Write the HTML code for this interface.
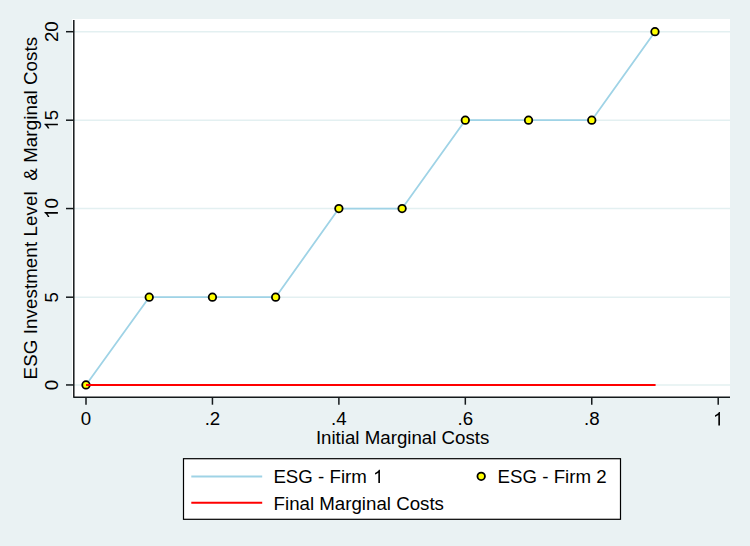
<!DOCTYPE html>
<html>
<head>
<meta charset="utf-8">
<style>
html,body{margin:0;padding:0;background:#EAF2F3;}
body{width:750px;height:546px;overflow:hidden;}
svg{display:block;}
text{font-family:"Liberation Sans",sans-serif;fill:#000;}
</style>
</head>
<body>
<svg width="750" height="546" viewBox="0 0 750 546">
  <rect x="0" y="0" width="750" height="546" fill="#EAF2F3"/>
  <rect x="72" y="19" width="658" height="378" fill="#FFFFFF"/>
  <g stroke="#E3F0F1" stroke-width="1.4">
    <line x1="74" y1="384.95" x2="730" y2="384.95"/>
    <line x1="74" y1="297.2" x2="730" y2="297.2"/>
    <line x1="74" y1="208.55" x2="730" y2="208.55"/>
    <line x1="74" y1="120.2" x2="730" y2="120.2"/>
    <line x1="74" y1="31.7" x2="730" y2="31.7"/>
  </g>
  <g stroke="#14191b" stroke-width="1.5" fill="none">
    <path d="M73.8,20 L73.8,397.3 L730,397.3" stroke-linejoin="round"/>
    <line x1="66" y1="384.95" x2="73.8" y2="384.95"/>
    <line x1="66" y1="297.2" x2="73.8" y2="297.2"/>
    <line x1="66" y1="208.55" x2="73.8" y2="208.55"/>
    <line x1="66" y1="120.2" x2="73.8" y2="120.2"/>
    <line x1="66" y1="31.7" x2="73.8" y2="31.7"/>
    <line x1="86.0" y1="397.3" x2="86.0" y2="404.7"/>
    <line x1="212.44" y1="397.3" x2="212.44" y2="404.7"/>
    <line x1="338.88" y1="397.3" x2="338.88" y2="404.7"/>
    <line x1="465.32" y1="397.3" x2="465.32" y2="404.7"/>
    <line x1="591.76" y1="397.3" x2="591.76" y2="404.7"/>
    <line x1="718.2" y1="397.3" x2="718.2" y2="404.7"/>
  </g>
  <g font-size="18.7" text-anchor="middle" fill="#000">
    <g transform="translate(57.9,31.7) rotate(-90)"><text x="-10.4" y="0" text-anchor="start">2</text><text x="0.0" y="0" text-anchor="start">0</text></g>
    <g transform="translate(57.9,120.2) rotate(-90)"><path d="M763 0H583V1147Q518 1085 412.5 1023Q307 961 223 930V1104Q374 1175 487 1276Q600 1377 647 1472H763V0Z" transform="translate(-10.4,0) scale(0.009131,-0.009131)"/><text x="0.0" y="0" text-anchor="start">5</text></g>
    <g transform="translate(57.9,208.55) rotate(-90)"><path d="M763 0H583V1147Q518 1085 412.5 1023Q307 961 223 930V1104Q374 1175 487 1276Q600 1377 647 1472H763V0Z" transform="translate(-10.4,0) scale(0.009131,-0.009131)"/><text x="0.0" y="0" text-anchor="start">0</text></g>
    <g transform="translate(57.9,297.2) rotate(-90)"><text x="-5.2" y="0" text-anchor="start">5</text></g>
    <g transform="translate(57.9,384.95) rotate(-90)"><text x="-5.2" y="0" text-anchor="start">0</text></g>
    <text transform="translate(86.0,425.4) scale(1,1.0)">0</text>
    <text transform="translate(212.44,425.4) scale(1,1.0)">.2</text>
    <text transform="translate(338.88,425.4) scale(1,1.0)">.4</text>
    <text transform="translate(465.32,425.4) scale(1,1.0)">.6</text>
    <text transform="translate(591.76,425.4) scale(1,1.0)">.8</text>
    <path d="M763 0H583V1147Q518 1085 412.5 1023Q307 961 223 930V1104Q374 1175 487 1276Q600 1377 647 1472H763V0Z" transform="translate(713.0,425.4) scale(0.009131,-0.009131)"/>
    <text transform="translate(402.6,443.7) scale(1,1.0)">Initial Marginal Costs</text>
    <text transform="translate(37.1,208.1) rotate(-90) scale(1,1.0)" textLength="342.6" lengthAdjust="spacing">ESG Investment Level&#160; &amp; Marginal Costs</text>
  </g>
  <polyline fill="none" stroke="#9FD3E6" stroke-width="1.8" stroke-linejoin="round" points="86.0,384.95 149.22,297.2 212.44,297.2 275.66,297.2 338.88,208.55 402.1,208.55 465.32,120.2 528.54,120.2 591.76,120.2 654.98,31.7"/>
  <g fill="#FFFF00" stroke="#000" stroke-width="1.8">
    <circle cx="86.0" cy="384.95" r="3.75"/>
    <circle cx="149.22" cy="297.2" r="3.75"/>
    <circle cx="212.44" cy="297.2" r="3.75"/>
    <circle cx="275.66" cy="297.2" r="3.75"/>
    <circle cx="338.88" cy="208.55" r="3.75"/>
    <circle cx="402.1" cy="208.55" r="3.75"/>
    <circle cx="465.32" cy="120.2" r="3.75"/>
    <circle cx="528.54" cy="120.2" r="3.75"/>
    <circle cx="591.76" cy="120.2" r="3.75"/>
    <circle cx="654.98" cy="31.7" r="3.75"/>
  </g>
  <line x1="86.0" y1="384.95" x2="655.6" y2="384.95" stroke="#FF0000" stroke-width="2"/>
  <rect x="183.5" y="458.7" width="437" height="60.6" fill="#FFFFFF" stroke="#000" stroke-width="1.2"/>
  <line x1="191.3" y1="476.5" x2="262.2" y2="476.5" stroke="#9FD3E6" stroke-width="1.8"/>
  <line x1="191.3" y1="502.8" x2="262.2" y2="502.8" stroke="#FF0000" stroke-width="2"/>
  <circle cx="481.2" cy="476.3" r="3.75" fill="#FFFF00" stroke="#000" stroke-width="1.8"/>
  <g font-size="18.7" fill="#000">
    <text transform="translate(273.4,483.1) scale(1,1.0)">ESG - Firm</text>
    <path d="M763 0H583V1147Q518 1085 412.5 1023Q307 961 223 930V1104Q374 1175 487 1276Q600 1377 647 1472H763V0Z" transform="translate(373.0,483.1) scale(0.009131,-0.009131)"/>
    <text transform="translate(273.6,510.1) scale(1,1.0)">Final Marginal Costs</text>
    <text transform="translate(497.6,483.1) scale(1,1.0)">ESG - Firm 2</text>
  </g>
</svg>
</body>
</html>
